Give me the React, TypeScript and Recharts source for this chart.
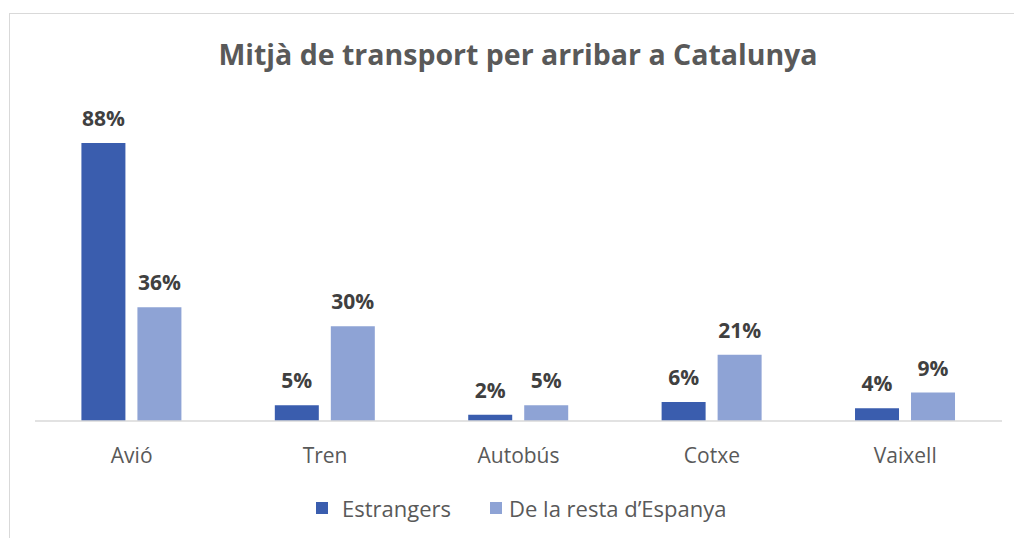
import React from 'react';
import { BarChart, Bar, XAxis, YAxis, LabelList, Legend } from 'recharts';

const categories = ['Avió', 'Tren', 'Autobús', 'Cotxe', 'Vaixell'];
const estrangers = [88, 5, 2, 6, 4];
const restaEspanya = [36, 30, 5, 21, 9];
const seriesNames = ['Estrangers', 'De la resta d\u2019Espanya'];

const data = categories.map((name, i) => ({
  name,
  estrangers: estrangers[i],
  resta: restaEspanya[i],
}));

const DARK = '#3A5DAE';
const LIGHT = '#8EA3D5';
const FONT = '"Open Sans", "Noto Sans", sans-serif';

const LegendBox = () => (
  <div style={{ display: 'flex', alignItems: 'center', paddingLeft: 316, fontFamily: FONT, fontSize: 22, color: '#595959' }}>
    <span style={{ width: 12, height: 12, background: DARK, display: 'inline-block', marginRight: 14 }} />
    <span style={{ marginRight: 39 }}>{seriesNames[0]}</span>
    <span style={{ width: 12, height: 12, background: LIGHT, display: 'inline-block', marginRight: 7 }} />
    <span>{seriesNames[1]}</span>
  </div>
);

export default function App() {
  return (
    <div style={{ position: 'absolute', left: 0, top: 0, width: 1014, height: 538, background: '#fff', overflow: 'hidden' }}>
      <div style={{ position: 'absolute', left: 9, top: 13, width: 1020, height: 540, border: '1px solid #d9d9d9' }} />
      <div style={{ position: 'absolute', left: 0, top: 35, width: 1036, textAlign: 'center', fontFamily: FONT, fontWeight: 700, fontSize: 28.5, color: '#595959' }}>
        Mitjà de transport per arribar a Catalunya
      </div>
      <BarChart
        width={1014}
        height={538}
        data={data}
        margin={{ top: 105, right: 12, left: 35, bottom: 67 }}
        barCategoryGap="24%"
        barGap={12}
        style={{ position: 'absolute', left: 0, top: 0 }}
      >
        <XAxis
          dataKey="name"
          axisLine={{ stroke: '#d9d9d9', strokeWidth: 1.5 }}
          tickLine={false}
          tickSize={0}
          tickMargin={27}
          tick={{ fill: '#595959', fontSize: 21, fontFamily: FONT }}
          height={50}
        />
        <YAxis hide domain={[0, 100]} />
        <Legend
          layout="horizontal"
          verticalAlign="middle"
          align="center"
          content={() => <LegendBox />}
          wrapperStyle={{ top: 493, left: 0, width: 1014 }}
        />
        <Bar dataKey="estrangers" fill={DARK} isAnimationActive={false}>
          <LabelList dataKey="estrangers" position="top" offset={17} formatter={(v: any) => `${v}%`}
            style={{ fill: '#404040', fontSize: 21, fontWeight: 700, fontFamily: FONT }} />
        </Bar>
        <Bar dataKey="resta" fill={LIGHT} isAnimationActive={false}>
          <LabelList dataKey="resta" position="top" offset={17} formatter={(v: any) => `${v}%`}
            style={{ fill: '#404040', fontSize: 21, fontWeight: 700, fontFamily: FONT }} />
        </Bar>
      </BarChart>
    </div>
  );
}
